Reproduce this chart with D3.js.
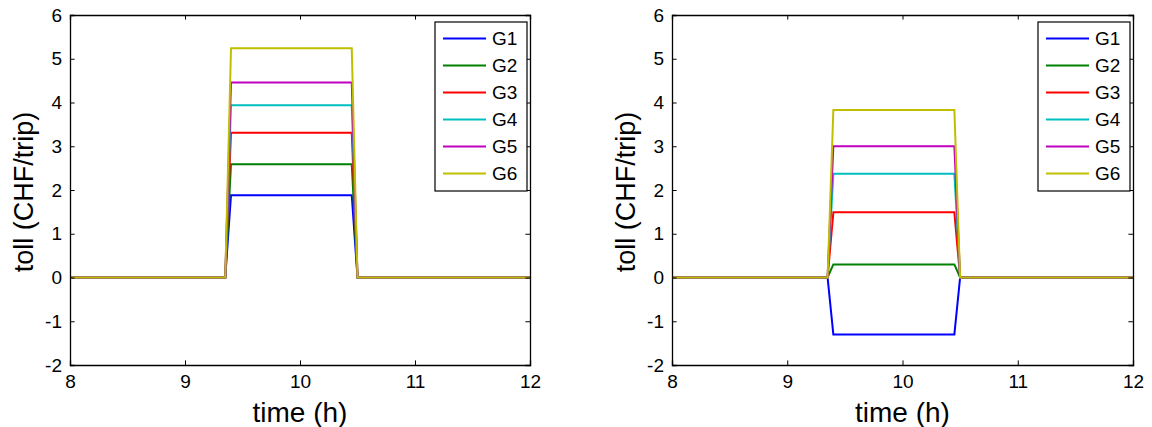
<!DOCTYPE html>
<html>
<head>
<meta charset="utf-8">
<script src="https://cdn.jsdelivr.net/npm/d3@7/dist/d3.min.js"></script>
<style>
  html, body { margin: 0; padding: 0; background: #fff; }
  svg { display: block; font-family: "Liberation Sans", Arial, Helvetica, sans-serif; }
</style>
</head>
<body>
<svg id="chart" width="1152" height="427"></svg>
<script>
// Time grid (hours) at which the toll profile changes
const times = [8, 9.35, 9.4, 10.45, 10.5, 12];

// Group names and line colours
const groups = ["G1", "G2", "G3", "G4", "G5", "G6"];
const colors = ["#0000FF", "#008000", "#FF0000", "#00BFBF", "#BF00BF", "#BFBF00"];

// Peak-period toll levels (CHF/trip), left panel
const tollLeft = [1.88, 2.59, 3.31, 3.94, 4.46, 5.24];
// Peak-period toll levels (CHF/trip), right panel
const tollRight = [-1.30, 0.30, 1.49, 2.37, 3.00, 3.83];

// Axis ticks
const xTicks = [8, 9, 10, 11, 12];
const yTicks = [-2, -1, 0, 1, 2, 3, 4, 5, 6];

const svg = d3.select("#chart");
const plain = d => String(d);  // hyphen-minus labels

function panel(left, right, levels) {
  const top = 15, bottom = 365;
  const x = d3.scaleLinear().domain([8, 12]).range([left, right]);
  const y = d3.scaleLinear().domain([-2, 6]).range([bottom, top]);
  const g = svg.append("g");
  const tickLen = 4.6;

  // Series: zero outside peak, constant level within
  const line = d3.line().x(d => x(d[0])).y(d => y(d[1]));
  levels.forEach((v, i) => {
    const pts = times.map((t, k) => [t, (k === 2 || k === 3) ? v : 0]);
    g.append("path")
      .attr("d", line(pts))
      .attr("fill", "none")
      .attr("stroke", colors[i])
      .attr("stroke-width", 2)
      .attr("stroke-linejoin", "miter");
  });

  // Axes with inward ticks on all four sides
  const bottomAx = d3.axisBottom(x).tickValues(xTicks).tickSize(-tickLen).tickPadding(10).tickFormat(plain);
  const topAx = d3.axisTop(x).tickValues(xTicks).tickSize(-tickLen).tickFormat("");
  const leftAx = d3.axisLeft(y).tickValues(yTicks).tickSize(-tickLen).tickPadding(8).tickFormat(plain);
  const rightAx = d3.axisRight(y).tickValues(yTicks).tickSize(-tickLen).tickFormat("");

  const style = sel => {
    sel.selectAll("path.domain").attr("stroke", "#000").attr("stroke-width", 1.3);
    sel.selectAll(".tick line").attr("stroke", "#000").attr("stroke-width", 1);
    sel.selectAll(".tick text").attr("fill", "#000").attr("font-size", 19)
      .attr("font-family", "'Liberation Sans', Arial, sans-serif");
  };
  g.append("g").attr("transform", `translate(0,${bottom})`).call(bottomAx).call(style)
    .selectAll(".tick text").attr("dy", "0.71em");
  g.append("g").attr("transform", `translate(0,${top})`).call(topAx).call(style);
  g.append("g").attr("transform", `translate(${left},0)`).call(leftAx).call(style);
  g.append("g").attr("transform", `translate(${right},0)`).call(rightAx).call(style);

  // Axis titles
  g.append("text")
    .attr("x", (left + right) / 2).attr("y", 422)
    .attr("text-anchor", "middle").attr("font-size", 28).attr("fill", "#000")
    .text("time (h)");
  g.append("text")
    .attr("transform", `translate(${left - 37},${(top + bottom) / 2 + 2}) rotate(-90)`)
    .attr("text-anchor", "middle").attr("font-size", 27).attr("fill", "#000")
    .text("toll (CHF/trip)");

  // Legend
  const lw = 92, lh = 169;
  const lx = right - 3 - lw, ly = 22;
  const leg = g.append("g").attr("transform", `translate(${lx},${ly})`);
  leg.append("rect").attr("width", lw).attr("height", lh)
    .attr("fill", "#fff").attr("stroke", "#000").attr("stroke-width", 1.2);
  groups.forEach((name, i) => {
    const yy = 16.5 + i * 27;
    leg.append("line").attr("x1", 8).attr("x2", 51).attr("y1", yy).attr("y2", yy)
      .attr("stroke", colors[i]).attr("stroke-width", 2);
    leg.append("text").attr("x", 57).attr("y", yy).attr("dy", "0.35em")
      .attr("font-size", 19).attr("fill", "#000").text(name);
  });
}

panel(70, 530, tollLeft);
panel(672, 1133, tollRight);
</script>
</body>
</html>
